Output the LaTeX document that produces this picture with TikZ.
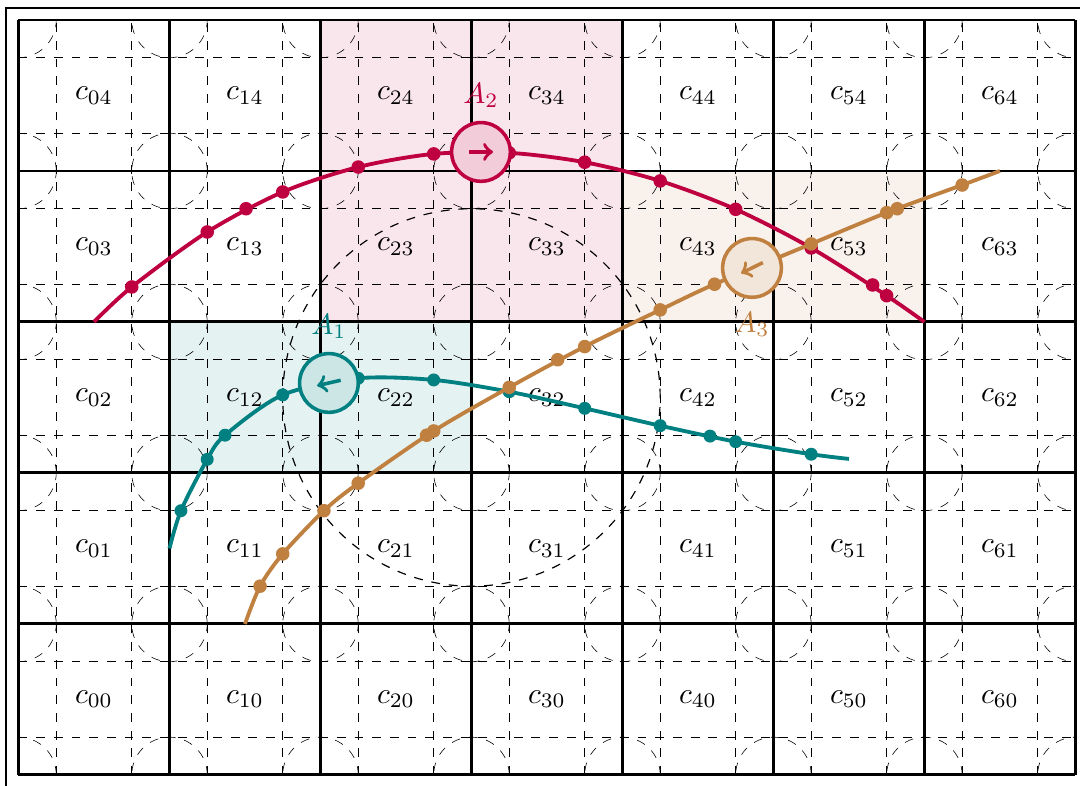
\documentclass[tikz,border=0pt]{standalone}
\usepackage{tikz}

\begin{document}
\begin{tikzpicture}[x=1.8cm, y=1.8cm,
       agent/.style={circle, draw=#1, fill=#1!20, very thick, minimum size=0.7cm, inner sep=0pt},
       move/.style={#1, very thick, ->},
       track/.style={#1, line width=1.3pt},
       helper/.style={dashed, thin},
       cellline/.style={line width=1pt}]

\useasboundingbox (-0.1225,-0.073) rectangle (7.0305,5.1325);
\draw[thin] (7.0305,5.079) -- (-0.083,5.079) -- (-0.083,-0.073);

\def\r{0.25};
\def\w{7};
\def\h{5};

\fill[purple!10] (2,3) rectangle (4,5);
\fill[brown!10] (4,3) rectangle (6,4);
\fill[teal!10] (1,2) rectangle (3,3);

\begin{scope}
\clip (0,0) rectangle (\w,\h);
\foreach \x in {0,...,6}{
       \draw[helper] (\x+\r, 0) -- (\x+\r, \h);
       \draw[helper] (\x+1-\r, 0) -- (\x+1-\r, \h);
}
\foreach \y in {0,...,4}{
       \draw[helper] (0, \y+\r) -- (\w, \y+\r);
       \draw[helper] (0, \y+1-\r) -- (\w, \y+1-\r);
}
\foreach \x in {0,...,\w}{
       \foreach \y in {0,...,\h}{
              \draw[helper, very thin] (\x, \y) circle [radius=\r];
       }
}
\draw[helper] (3, 2.5) circle [radius=1.25];
\end{scope}

\foreach \x in {0,...,\w}{
       \draw[cellline] (\x, 0) -- (\x, \h);
}
\foreach \y in {0,...,\h}{
       \draw[cellline] (0, \y) -- (\w, \y);
}

\foreach \x in {0,...,6}{
       \foreach \y in {0,...,4}{
              \node (c\x\y) at (\x+0.5, \y+0.5) {$c_{\x\y}$};
       }
}

\draw[track=teal] plot[smooth] coordinates {(1,1.5) (1.076,1.75) (1.25,2.09) (1.368,2.25) (1.75,2.517) (2.25,2.627) (2.75,2.616) (3.25,2.538) (3.75,2.428) (4.25,2.313) (4.75,2.207) (5.25,2.124) (5.5,2.093)};
\foreach \x/\y in {1.076/1.75, 1.25/2.09, 1.368/2.25, 1.75/2.517, 2.25/2.627, 2.75/2.616, 3.25/2.538, 3.75/2.428, 4.25/2.313, 4.58/2.244, 4.75/2.207, 5.25/2.124}{
       \fill[teal] (\x, \y) circle [radius=2.2pt];
}

\draw[track=purple] plot[smooth] coordinates {(0.5,3) (0.75,3.232) (1.25,3.596) (1.75,3.861) (2.25,4.026) (2.75,4.113) (3.25,4.12) (3.75,4.058) (4.25,3.934) (4.75,3.746) (5.25,3.49) (5.75,3.174) (6,3)};
\foreach \x/\y in {0.75/3.232, 1.25/3.596, 1.507/3.75, 1.75/3.861, 2.25/4.026, 2.75/4.113, 3.25/4.12, 3.75/4.058, 4.25/3.934, 4.75/3.746, 5.25/3.49, 5.657/3.245, 5.75/3.174}{
       \fill[purple] (\x, \y) circle [radius=2.3pt];
}

\draw[track=brown] plot[smooth] coordinates {(1.5,1) (1.6,1.25) (1.75,1.464) (2.023,1.75) (2.25,1.932) (2.75,2.278) (3.25,2.567) (3.75,2.837) (4.25,3.08) (4.61,3.25) (5.25,3.517) (5.75,3.724) (6.25,3.907) (6.5,4)};
\foreach \x/\y in {1.6/1.25, 1.75/1.464, 2.023/1.75, 2.25/1.932, 2.703/2.25, 2.75/2.278, 3.25/2.567, 3.571/2.75, 3.75/2.837, 4.25/3.08, 4.61/3.25, 5.25/3.517, 5.75/3.724, 5.82/3.75, 6.25/3.907}{
       \fill[brown] (\x, \y) circle [radius=2.3pt];
}

\node[agent=teal, label={[teal, label distance=1pt]above:$A_1$}] (a1) at (2.056,2.596) {};
\node[agent=purple, label={[purple, label distance=1pt]above:$A_2$}] (a2) at (3.063,4.126) {};
\node[agent=brown, label={[brown, label distance=1pt]below:$A_3$}] (a3) at (4.858,3.358) {};

\draw[move=teal] ([shift={(13:0.08)}]a1.center) -- ([shift={(193:0.08)}]a1.center);
\draw[move=purple] ([shift={(180:0.08)}]a2.center) -- ([shift={(0:0.08)}]a2.center);
\draw[move=brown] ([shift={(26:0.08)}]a3.center) -- ([shift={(206:0.08)}]a3.center);

\end{tikzpicture}
\end{document}
